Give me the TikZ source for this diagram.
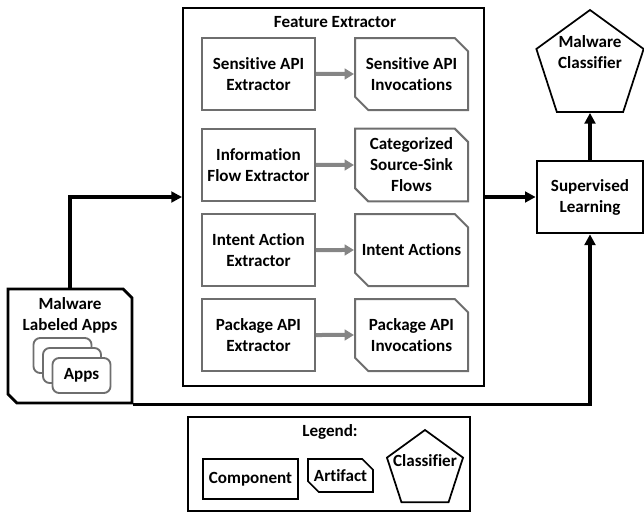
\documentclass[tikz,border=0pt]{standalone}
\usepackage{fontspec}
\setmainfont[Ligatures=NoCommon]{Carlito}
\usetikzlibrary{arrows.meta, positioning, shapes.geometric, shapes.misc}
\definecolor{cgrey}{HTML}{6E6E6E}
\definecolor{carrow}{HTML}{858585}
\tikzset{
  every picture/.style={font=\bfseries\fontsize{12.8}{15.8}\selectfont},
  comp/.style={draw=#1, fill=white, line width=1.5pt, align=center, inner sep=2pt, minimum width=84.75pt, minimum height=54pt},
  comp/.default=cgrey,
  artifact/.style={chamfered rectangle, chamfered rectangle corners={north east, south west}, chamfered rectangle xsep=5pt, chamfered rectangle ysep=5pt, draw=#1, fill=white, line width=1.5pt, align=center, inner xsep=0pt, inner ysep=2pt, minimum width=84.75pt, minimum height=54pt},
  artifact/.default=cgrey,
  classifier/.style={regular polygon, regular polygon sides=5, draw=black, line width=1.3pt, inner sep=0pt},
  app/.style={draw=cgrey, fill=white, rounded corners=5pt, line width=1.4pt, minimum width=43.5pt, minimum height=26.25pt},
  lbl/.style={align=center, inner sep=0pt},
  arrow/.style={-{Triangle[length=8pt, width=8pt]}, draw=black, line width=2.4pt},
  garrow/.style={-{Triangle[length=7pt, width=8pt]}, draw=carrow, line width=3pt},
}
\begin{document}
\begin{tikzpicture}[x=0.75pt, y=-0.75pt]
  \useasboundingbox (0,0) rectangle (644,514);
  \node[draw=black, line width=1.5pt, minimum width=225.75pt, minimum height=283.5pt] (fe) at (333.5,197) {};
  \node[lbl] (fetitle) at (335,22) {Feature Extractor};
  \foreach \i/\y/\e/\a in {1/74/{Sensitive API\\Extractor}/{Sensitive API\\Invocations},
                           2/165/{Information\\Flow Extractor}/{Categorized\\Source-Sink\\Flows},
                           3/250/{Intent Action\\Extractor}/{Intent Actions},
                           4/335/{Package API\\Extractor}/{Package API\\Invocations}} {
    \node[comp] (ex\i) at (258.5,\y) {\e};
    \node[artifact] (art\i) at (411.5,\y) {\a};
    \draw[garrow] (ex\i) -- (art\i);
  }
  % input apps
  \node[chamfered rectangle, chamfered rectangle corners={north east, south west}, chamfered rectangle xsep=9pt, chamfered rectangle ysep=9pt, draw=black, line width=2.2pt, minimum width=93pt, minimum height=85.5pt] (mal) at (70,346) {};
  \node[lbl] (maltxt) at (70,315) {Malware\\Labeled Apps};
  \node[app] (app1) at (62.5,355.5) {};
  \node[app] (app2) at (72,365.5) {};
  \node[app] (app3) at (81.5,375.5) {Apps};
  % learning
  \node[comp=black, line width=2pt, minimum width=79.5pt] (sl) at (590,197) {Supervised\\Learning};
  \node[classifier, minimum size=84.6pt] (cls) at (590,66.4) {};
  \node[lbl] (clstxt) at (590,52) {Malware\\Classifier};
  \draw[arrow] (mal.north) |- (fe.west);
  \draw[arrow] (fe.east) -- (sl.west);
  \draw[arrow] (sl.north) -- (cls.south);
  \draw[arrow] (mal.south east) -| (sl.south);
  % legend
  \node[draw=black, line width=0.8pt, minimum width=211.5pt, minimum height=70.5pt] (leg) at (329,464) {};
  \node[lbl] (legtxt) at (330,432) {Legend:};
  \node[comp=black, line width=2pt, minimum width=71.25pt, minimum height=30pt] (lcomp) at (250.5,479) {Component};
  \node[artifact=black, line width=1.2pt, chamfered rectangle xsep=4pt, chamfered rectangle ysep=4pt, minimum width=48.75pt, minimum height=24.75pt] (lart) at (340.5,475.5) {Artifact};
  \node[classifier, minimum size=60pt] (lcls) at (425,470) {};
  \node[lbl] (lclstxt) at (425,461) {Classifier};
\end{tikzpicture}
\end{document}
